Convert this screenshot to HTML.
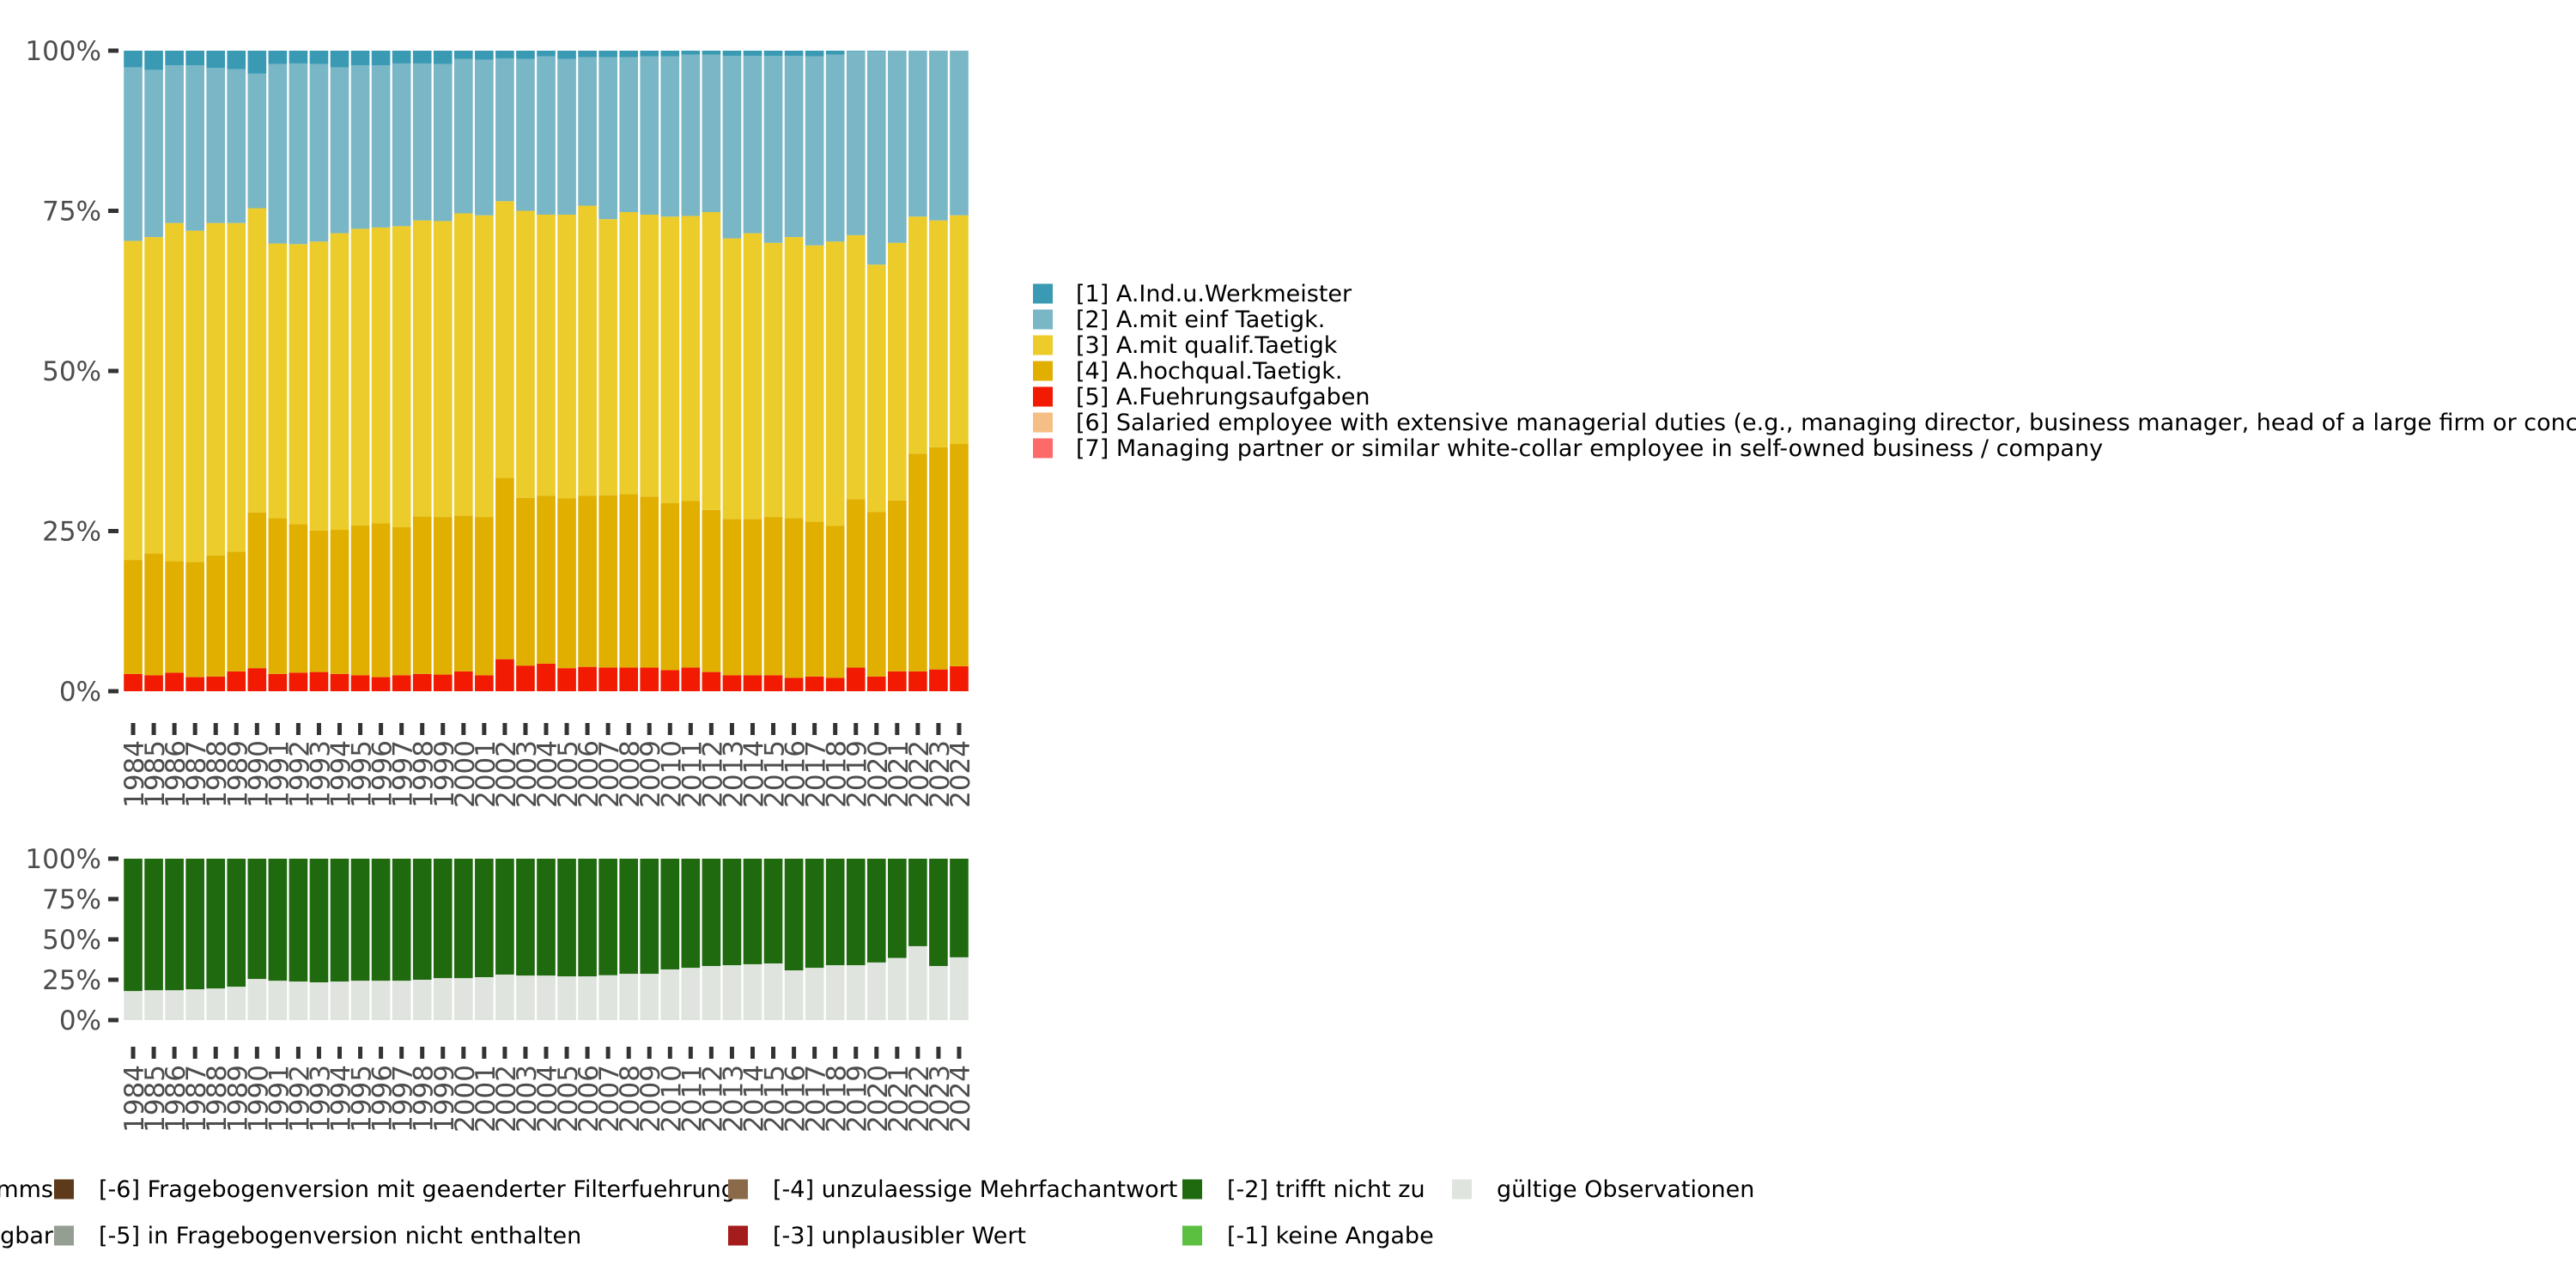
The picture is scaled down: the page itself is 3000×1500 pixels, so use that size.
<!DOCTYPE html>
<html><head><meta charset="utf-8">
<style>
body{margin:0;background:#fff;}
svg{display:block;font-family:"DejaVu Sans","Liberation Sans",sans-serif;}
</style></head>
<body>
<svg id="chart" width="3000" height="1500" viewBox="0 0 3000 1500" xmlns="http://www.w3.org/2000/svg">
<g id="top"></g>
<g id="bot"></g>
<g id="legR"></g>
<g id="legB"></g>
</svg>
<script>
const years = [];
for (let y = 1984; y <= 2024; y++) years.push(String(y));
// cumulative tops (%) of stacked segments, bottom to top
const redTop = [2.7,2.5,2.9,2.2,2.3,3.1,3.6,2.7,2.9,3.0,2.7,2.5,2.2,2.5,2.7,2.6,3.1,2.5,5.0,4.0,4.3,3.6,3.8,3.7,3.7,3.7,3.3,3.7,3.0,2.5,2.5,2.5,2.1,2.3,2.1,3.7,2.3,3.1,3.1,3.4,3.9];
const hochTop = [20.5,21.5,20.3,20.2,21.2,21.8,27.9,27.0,26.1,25.1,25.2,25.9,26.2,25.6,27.3,27.2,27.4,27.2,33.3,30.2,30.5,30.1,30.5,30.6,30.8,30.4,29.4,29.7,28.3,26.9,26.9,27.2,27.0,26.5,25.8,30.0,28.0,29.8,37.1,38.1,38.6];
const qualTop = [70.3,70.9,73.1,71.9,73.1,73.1,75.4,69.9,69.8,70.2,71.5,72.2,72.4,72.6,73.5,73.4,74.6,74.3,76.5,75.0,74.4,74.4,75.8,73.7,74.8,74.4,74.1,74.2,74.8,70.7,71.5,70.0,70.9,69.6,70.2,71.2,66.6,70.0,74.1,73.5,74.3];
const einfTop = [97.4,97.0,97.7,97.7,97.3,97.1,96.4,97.9,98.0,97.9,97.4,97.7,97.7,98.0,98.0,97.9,98.7,98.6,98.8,98.7,99.1,98.7,99.0,99.0,99.0,99.1,99.1,99.4,99.4,99.2,99.2,99.2,99.2,99.1,99.4,99.9,99.9,100,100,100,100];
const validTop = [18.0,18.5,18.5,19.1,19.6,20.7,25.5,24.4,23.9,23.4,23.9,24.4,24.4,24.4,25.0,26.0,26.0,26.6,28.2,27.6,27.6,27.1,27.1,27.8,28.7,28.7,31.4,32.4,33.5,34.0,34.6,35.1,30.8,32.4,34.0,34.0,35.7,38.5,45.8,33.5,38.9];
const yTicks = [0,25,50,75,100];

const NS = "http://www.w3.org/2000/svg";
function mk(tag, attrs, parent){const e=document.createElementNS(NS,tag);for(const k in attrs)e.setAttribute(k,attrs[k]);parent.appendChild(e);return e;}

const X0 = 143, X1 = 1129, step = (X1-X0)/years.length, bw = step*0.9;
function xPos(i){return X0 + i*step + (step-bw)/2;}
function xMid(i){return X0 + i*step + step/2;}

function panel(g, yTop, yBot, segs, tickY, labY){
  const yS = v => yBot - (yBot-yTop)*v/100;
  years.forEach((yr,i)=>{
    let prev = 0;
    segs.forEach(s=>{
      const top = s.arr ? s.arr[i] : 100;
      if (top - prev > 0.01) {
        const r = mk('rect',{x:xPos(i),y:yS(top),width:bw,height:yS(prev)-yS(top),fill:s.color},g);
        
        
      }
      prev = top;
    });
    const t = mk('rect',{x:xMid(i)-2.5,y:tickY,width:5,height:14,fill:'#333'},g);
    
    
    const tx = mk('text',{x:0,y:0,transform:`translate(${xMid(i)+12},${labY}) rotate(-90)`,'text-anchor':'end','font-size':31,fill:'#4d4d4d'},g);
    tx.textContent = yr;
    
    
  });
  yTicks.forEach(v=>{
    const t = mk('rect',{x:126,y:yS(v)-2.5,width:12,height:5,fill:'#333'},g);
    
    
    const l = mk('text',{x:118,y:yS(v)+11,'text-anchor':'end','font-size':31,fill:'#4d4d4d'},g);
    l.textContent = v+'%';
    
    
  });
}

panel(document.getElementById('top'), 59, 805, [
  {key:'fuehrung',arr:redTop,color:'#f21a00'},
  {key:'hochqual',arr:hochTop,color:'#e1af00'},
  {key:'qualif',arr:qualTop,color:'#ebcc2a'},
  {key:'einf',arr:einfTop,color:'#79b6c6'},
  {key:'werkmeister',arr:null,color:'#3a9ab3'}
], 842, 862);

panel(document.getElementById('bot'), 1000, 1188, [
  {key:'valid',arr:validTop,color:'#e0e4df'},
  {key:'trifft-nicht-zu',arr:null,color:'#1f6a0f'}
], 1219, 1240);

const legR = document.getElementById('legR');
const rItems = [
  ['#3a9ab3','[1] A.Ind.u.Werkmeister'],
  ['#79b6c6','[2] A.mit einf Taetigk.'],
  ['#ebcc2a','[3] A.mit qualif.Taetigk'],
  ['#e1af00','[4] A.hochqual.Taetigk.'],
  ['#f21a00','[5] A.Fuehrungsaufgaben'],
  ['#f5be85','[6] Salaried employee with extensive managerial duties (e.g., managing director, business manager, head of a large firm or concern)'],
  ['#fe6a6a','[7] Managing partner or similar white-collar employee in self-owned business / company']
];
rItems.forEach((it,i)=>{
  const cy = 342 + i*30;
  const s = mk('rect',{x:1203,y:cy-11.5,width:23,height:23,fill:it[0]},legR);
  
  
  const t = mk('text',{x:1253,y:cy+9,'font-size':27,fill:'#000'},legR);
  t.textContent = it[1];
  
  
});

const legB = document.getElementById('legB');
const bItems = [
  [null,'[-8] Frage in diesem Jahr nicht Teil des Frageprogramms',0,0],
  [null,'[-7] nur in weniger eingeschraenkter Edition verfuegbar',0,1],
  ['#5c3a1a','[-6] Fragebogenversion mit geaenderter Filterfuehrung',63,0],
  ['#959e92','[-5] in Fragebogenversion nicht enthalten',63,1],
  ['#8b6a4a','[-4] unzulaessige Mehrfachantwort',848,0],
  ['#a51c1c','[-3] unplausibler Wert',848,1],
  ['#1f6a0f','[-2] trifft nicht zu',1377,0],
  ['#5bbf3f','[-1] keine Angabe',1377,1],
  ['#e0e4df','gültige Observationen',1691,0]
];
bItems.forEach(it=>{
  const cy = it[3] ? 1439 : 1385;
  if (it[0] === null) {
    const t = mk('text',{x:62,y:cy+9,'font-size':27,fill:'#000','text-anchor':'end'},legB);
    t.textContent = it[1];
    
    
    return;
  }
  const s = mk('rect',{x:it[2],y:cy-11.5,width:23,height:23,fill:it[0]},legB);
  
  
  const t = mk('text',{x:it[2]+52,y:cy+9,'font-size':27,fill:'#000'},legB);
  t.textContent = it[1];
  
  
});
</script>
</body></html>
